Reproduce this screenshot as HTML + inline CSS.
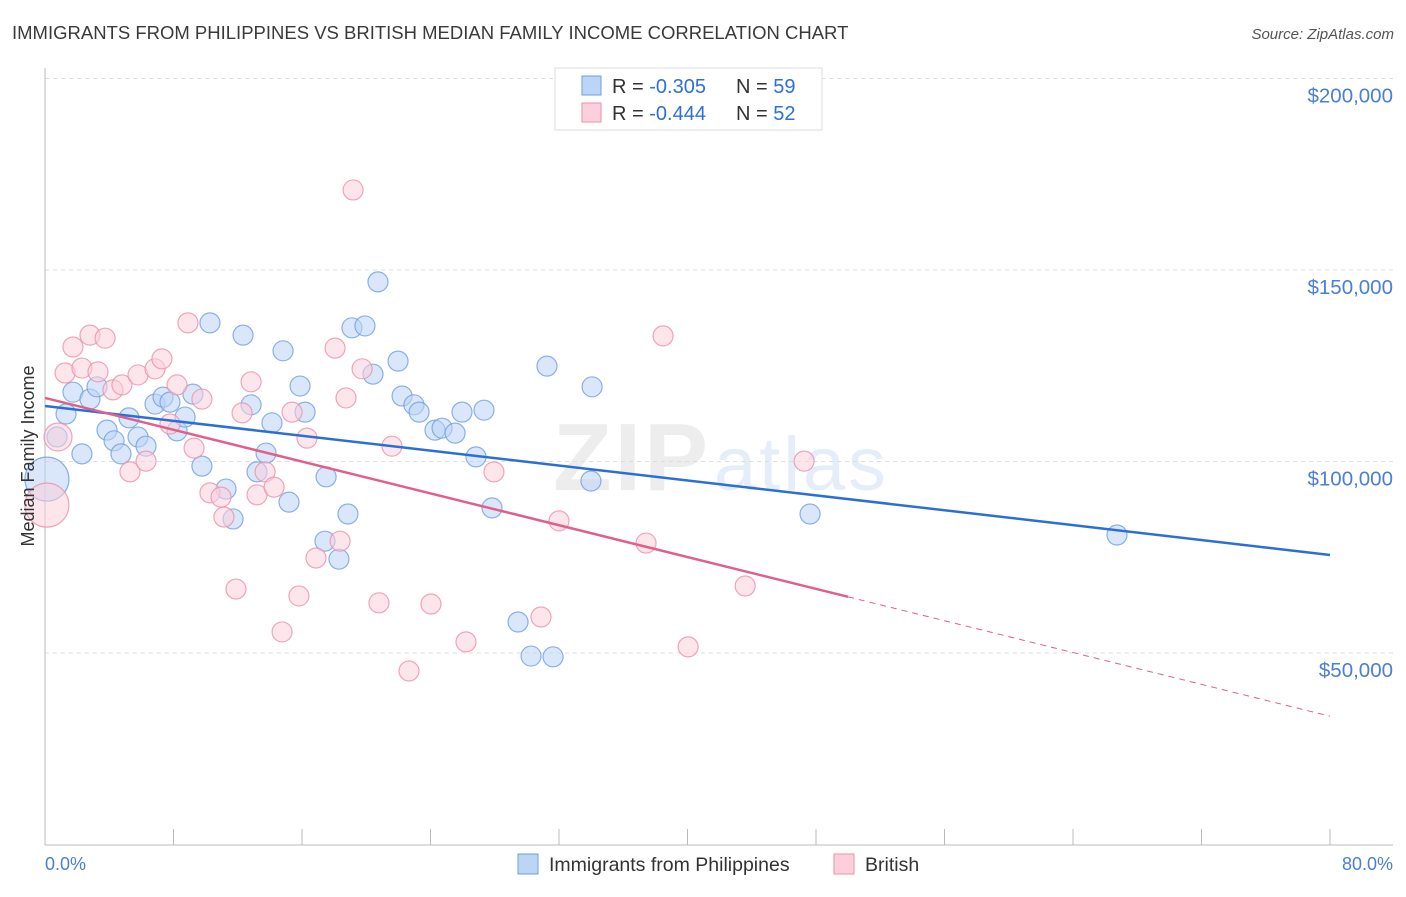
<!DOCTYPE html>
<html><head><meta charset="utf-8"><style>
body{margin:0;background:#fff;font-family:"Liberation Sans",sans-serif;}
svg text{font-family:"Liberation Sans",sans-serif;}
</style></head><body>
<svg width="1406" height="892" viewBox="0 0 1406 892">
<text x="12" y="39" font-size="18.5" fill="#3a3a3a">IMMIGRANTS FROM PHILIPPINES VS BRITISH MEDIAN FAMILY INCOME CORRELATION CHART</text>
<text x="1394" y="39" font-size="15" fill="#555" text-anchor="end" font-style="italic">Source: ZipAtlas.com</text>
<g opacity="0.25">
<text x="553" y="490" font-size="96" fill="#bbb" font-family="Liberation Serif" font-weight="bold" textLength="155">ZIP</text>
<text x="714" y="490" font-size="76" fill="#9bbce6" textLength="172">atlas</text>
</g>
<g id="grid"></g>
<g id="axes"></g>
<g id="marks"></g>
<text transform="translate(34,456) rotate(-90)" font-size="18" fill="#333" text-anchor="middle">Median Family Income</text>
<text x="45" y="870" font-size="18" fill="#4a7fd4">0.0%</text>
<text x="1393" y="870" font-size="18" fill="#4a7fd4" text-anchor="end">80.0%</text>
<g>
<rect x="555" y="68" width="267" height="62" fill="#fff" stroke="#ddd"/>
<rect x="582" y="76" width="19" height="19" fill="#bcd4f5" stroke="#6e9fe0"/>
<text x="612" y="93" font-size="20" fill="#333">R = <tspan fill="#2e6fdc">-0.305</tspan></text>
<text x="736" y="93" font-size="20" fill="#333">N = <tspan fill="#2e6fdc">59</tspan></text>
<rect x="582" y="103" width="19" height="19" fill="#fbd0dc" stroke="#ec90aa"/>
<text x="612" y="120" font-size="20" fill="#333">R = <tspan fill="#2e6fdc">-0.444</tspan></text>
<text x="736" y="120" font-size="20" fill="#333">N = <tspan fill="#2e6fdc">52</tspan></text>
</g>
<g>
<rect x="518" y="854" width="20" height="20" fill="#bcd4f5" stroke="#6e9fe0"/>
<text x="549" y="871" font-size="19.5" fill="#333">Immigrants from Philippines</text>
<rect x="834" y="854" width="20" height="20" fill="#fbd0dc" stroke="#ec90aa"/>
<text x="865" y="871" font-size="19.5" fill="#333">British</text>
</g>
</svg>
<script>
const yTicks=[50000,100000,150000,200000];
const yTickLabels=["$50,000","$100,000","$150,000","$200,000"];
const xTicks=[8,16,24,32,40,48,56,64,72,80];
const blueX=[0.12,0.75,1.31,1.74,2.30,2.80,3.24,3.86,4.30,4.73,5.23,5.79,6.29,6.85,7.35,7.78,8.22,8.72,9.21,9.77,10.27,11.27,11.71,12.33,12.83,13.20,13.76,14.13,14.82,15.19,15.88,16.19,17.50,17.43,18.30,18.86,19.11,19.92,20.42,20.73,21.98,22.23,22.97,23.29,24.28,24.72,25.53,25.96,27.33,26.83,27.83,29.45,30.26,31.25,31.63,34.06,33.99,47.63,66.74];
const blueY=[95.4,106.4,112.4,118.1,102.0,116.3,119.5,108.2,105.4,102.0,111.4,106.4,104.0,115.0,116.8,115.5,108.0,111.6,117.6,98.8,136.2,92.8,85.0,133.0,114.8,97.3,102.2,110.1,128.9,89.4,119.7,112.9,96.0,79.2,74.5,86.3,134.9,135.4,122.8,146.9,126.2,117.1,114.8,112.9,108.2,108.7,107.4,112.9,113.4,101.2,87.9,58.1,49.2,124.9,49.0,119.5,94.9,86.3,80.8];
const pinkX=[0.12,0.81,1.25,1.74,2.30,2.80,3.30,3.74,4.23,4.79,5.29,5.79,6.29,6.85,7.28,7.78,8.22,8.90,9.28,9.77,10.27,10.96,11.14,11.89,12.27,12.83,13.20,13.70,14.26,14.76,15.38,15.81,16.31,16.87,18.06,18.37,18.74,19.18,19.74,20.79,21.60,22.66,24.03,26.21,27.95,30.88,32.00,37.42,38.48,40.04,43.59,47.26];
const pinkY=[88.6,106.4,123.1,129.9,124.4,133.0,123.4,132.2,118.7,120.0,97.3,122.6,100.1,124.2,126.8,109.8,120.0,136.2,103.5,116.3,91.8,90.7,85.5,66.7,112.7,120.8,91.3,97.3,93.3,55.5,112.9,64.9,106.1,74.8,129.6,79.2,116.6,170.9,124.2,63.1,104.0,45.3,62.8,52.9,97.3,59.4,84.5,78.7,132.8,51.6,67.5,100.1];
const blueBig=[22];
const pinkBig=[22,14];
const blueTrend=[114.5,75.6];
const pinkTrend=[116.6,33.5];
const pinkSolidEnd=50;
const NS="http://www.w3.org/2000/svg";
const X=p=>45+p*(1330-45)/80;
const Y=k=>653-(k-50)*191.5/50;
const Yv=v=>Y(v/1000);
function mk(tag,attrs,parent){const e=document.createElementNS(NS,tag);for(const k in attrs)e.setAttribute(k,attrs[k]);parent.appendChild(e);return e;}
const grid=document.getElementById('grid'),axes=document.getElementById('axes'),marks=document.getElementById('marks');
yTicks.forEach((v,i)=>{
 const l=mk('line',{x1:45,x2:1393,y1:Yv(v),y2:Yv(v),stroke:'#ddd','stroke-dasharray':'4,4'},grid);
 
 
 const t=mk('text',{x:1393,y:Yv(v)+24,'font-size':20.5,fill:'#4a7fd4','text-anchor':'end'},axes);
 t.textContent=yTickLabels[i];
 
 
});
const gx=mk('line',{x1:45,x2:1393,y1:845,y2:845,stroke:'#bbb'},axes);


const gy=mk('line',{x1:45,x2:45,y1:68,y2:845,stroke:'#bbb'},axes);


xTicks.forEach(p=>{
 const t=mk('line',{x1:X(p),x2:X(p),y1:829,y2:845,stroke:'#bbb'},axes);
 
 
});
function dots(xs,ys,big,fill,stroke,name){
 xs.forEach((p,i)=>{
  const r=big[i]||10;
  const c=mk('circle',{cx:X(p),cy:Y(ys[i]),r:r,fill:fill,'fill-opacity':0.55,stroke:stroke,'stroke-width':1.2,'stroke-opacity':0.8},marks);
  
  
 });
}
dots(blueX,blueY,blueBig,'#bcd4f5','#6e9fe0','philippines-point');
dots(pinkX,pinkY,pinkBig,'#fbd0dc','#ec90aa','british-point');
const bl=mk('line',{x1:X(0),y1:Y(blueTrend[0]),x2:X(80),y2:Y(blueTrend[1]),stroke:'#2b6fd6','stroke-width':2.5},marks);


const pe=pinkTrend[0]+(pinkTrend[1]-pinkTrend[0])*pinkSolidEnd/80;
const pl=mk('line',{x1:X(0),y1:Y(pinkTrend[0]),x2:X(pinkSolidEnd),y2:Y(pe),stroke:'#e0608a','stroke-width':2.5},marks);


const pd=mk('line',{x1:X(pinkSolidEnd),y1:Y(pe),x2:X(80),y2:Y(pinkTrend[1]),stroke:'#e0608a','stroke-width':1,'stroke-dasharray':'6,5'},marks);


</script>
</body></html>
